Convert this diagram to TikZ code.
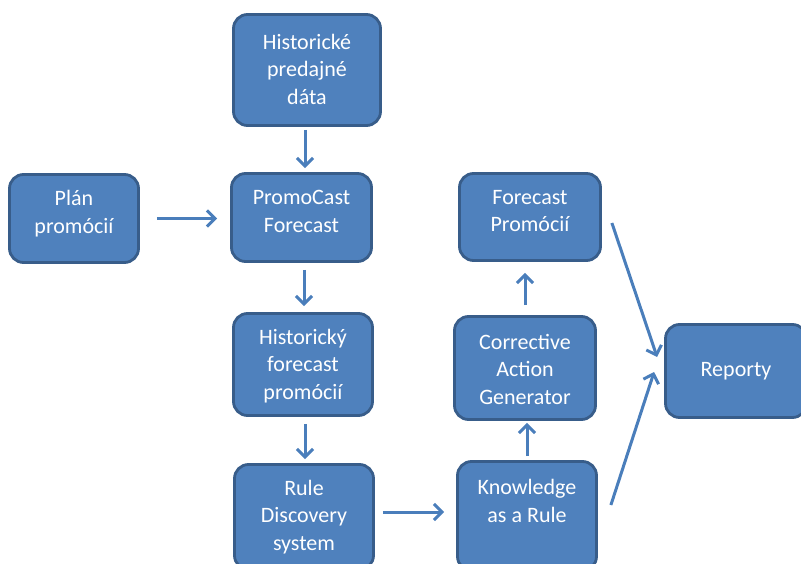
\documentclass[tikz,border=0pt]{standalone}
\usepackage{fontspec}
\setmainfont{Carlito}
\usetikzlibrary{arrows.meta,calc}
\definecolor{boxfill}{HTML}{4F81BD}
\definecolor{boxedge}{HTML}{385D8A}
\definecolor{flow}{HTML}{4A7EBB}
\begin{document}
\begin{tikzpicture}[x=1pt,y=-1pt,
  box/.style={draw=boxedge, fill=boxfill, line width=2.8pt, rounded corners=14pt, inner sep=0pt},
  boxtext/.style={text=white, align=center, inner sep=0pt, font=\fontsize{22}{27.5}\selectfont},
  flowarrow/.style={draw=flow, line width=3pt, -{Straight Barb[length=8pt,width=16pt]}}]
\useasboundingbox (0,0) rectangle (801,564);

% boxes
\node[box, minimum width=147pt, minimum height=111pt] (hist)  at (307,70)    {};
\node[box, minimum width=129pt, minimum height=88pt]  (plan)  at (74,218.5)  {};
\node[box, minimum width=140pt, minimum height=88pt]  (promo) at (301.5,217.5) {};
\node[box, minimum width=139pt, minimum height=102pt] (histf) at (303,364.5)  {};
\node[box, minimum width=139pt, minimum height=105pt] (rule)  at (304,517)   {};
\node[box, minimum width=139pt, minimum height=109pt] (know)  at (527,516)   {};
\node[box, minimum width=141pt, minimum height=103pt] (corr)  at (525,368)   {};
\node[box, minimum width=141pt, minimum height=87pt]  (fore)  at (530,217)   {};
\node[box, minimum width=141pt, minimum height=93pt]  (rep)   at (736,371)   {};

% labels
\node[boxtext] (hist-t)  at (307,69)      {Historické\\predajné\\dáta};
\node[boxtext] (plan-t)  at (74,213.5)    {Plán\\promócií};
\node[boxtext] (promo-t) at (301.5,211.5) {PromoCast\\Forecast};
\node[boxtext] (histf-t) at (303,366)     {Historický\\forecast\\promócií};
\node[boxtext] (rule-t)  at (304,517)     {Rule\\Discovery\\system};
\node[boxtext] (know-t)  at (527,501)     {Knowledge\\as a Rule};
\node[boxtext] (corr-t)  at (525,369)     {Corrective\\Action\\Generator};
\node[boxtext] (fore-t)  at (530,211)     {Forecast\\Promócií};
\node[boxtext] (rep-t)   at (736,371)     {Reporty};

% connectors
\draw[flowarrow, shorten <=3pt, shorten >=4pt]
  ([xshift=-2pt]hist.south) -- ([xshift=-2pt]hist.south |- promo.north);
\draw[flowarrow, shorten <=17pt, shorten >=13pt]
  (plan.east) -- (plan.east -| promo.west);
\draw[flowarrow, shorten <=7pt, shorten >=6pt]
  ([xshift=2.5pt]promo.south) -- ([xshift=2.5pt]promo.south |- histf.north);
\draw[flowarrow, shorten <=7pt, shorten >=4pt]
  ([xshift=2pt]histf.south) -- ([xshift=2pt]histf.south |- rule.north);
\draw[flowarrow, shorten <=8pt, shorten >=12pt]
  ([yshift=5pt]rule.east) -- ([yshift=5pt]rule.east -| know.west);
\draw[flowarrow, shorten <=4pt, shorten >=2pt]
  (know.north) -- (know.north |- corr.south);
\draw[flowarrow, shorten <=10pt, shorten >=11pt]
  (corr.north) -- (corr.north |- fore.south);
\draw[flowarrow] ($(fore.east)+(10,6)$) -- ($(rep.west)+(-7,-14)$);
\draw[flowarrow] ($(know.east)+(13,-11)$) -- ($(rep.west)+(-10,1)$);
\end{tikzpicture}
\end{document}
